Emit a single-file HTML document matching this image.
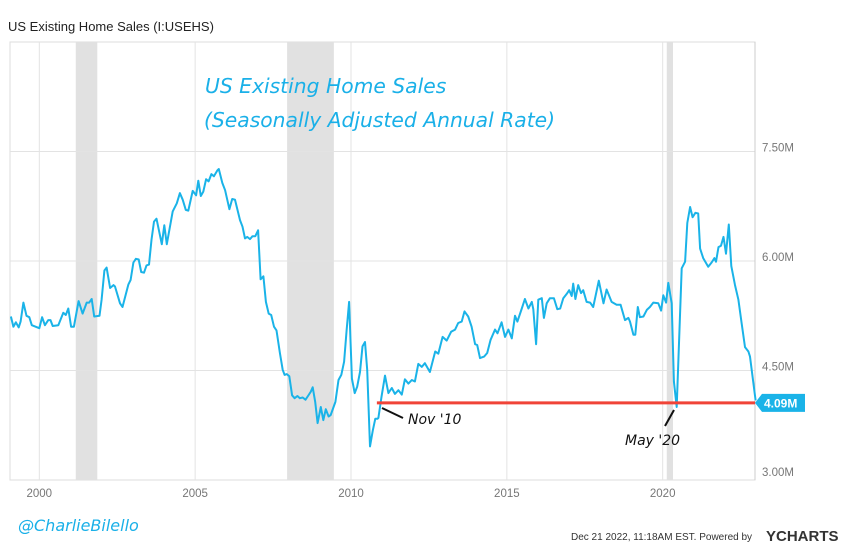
<!DOCTYPE html>
<html><head><meta charset="utf-8"><style>
body{margin:0;background:#fff;font-family:"Liberation Sans",sans-serif}
#wrap{position:relative;width:850px;height:546px;overflow:hidden}
</style></head><body>
<div id="wrap">
<svg id="chart" width="850" height="546"></svg>
</div>
<script>
const dates=[1999.09,1999.17,1999.25,1999.34,1999.40,1999.49,1999.59,1999.68,1999.76,2000.00,2000.09,2000.18,2000.29,2000.36,2000.43,2000.61,2000.77,2000.85,2000.93,2001.02,2001.11,2001.26,2001.39,2001.52,2001.60,2001.68,2001.76,2001.93,2002.00,2002.09,2002.16,2002.27,2002.38,2002.43,2002.59,2002.67,2002.86,2002.93,2003.02,2003.10,2003.19,2003.27,2003.36,2003.44,2003.52,2003.60,2003.68,2003.76,2003.93,2004.01,2004.09,2004.28,2004.41,2004.51,2004.60,2004.70,2004.78,2004.92,2005.03,2005.10,2005.18,2005.26,2005.35,2005.43,2005.52,2005.60,2005.71,2005.76,2005.87,2005.96,2006.10,2006.19,2006.28,2006.44,2006.52,2006.60,2006.67,2006.76,2006.84,2006.93,2007.02,2007.10,2007.19,2007.27,2007.36,2007.44,2007.53,2007.61,2007.72,2007.81,2007.87,2007.94,2008.02,2008.11,2008.19,2008.28,2008.36,2008.45,2008.54,2008.62,2008.71,2008.77,2008.85,2008.93,2009.03,2009.11,2009.19,2009.28,2009.35,2009.50,2009.60,2009.69,2009.78,2009.86,2009.94,2010.03,2010.12,2010.20,2010.29,2010.37,2010.45,2010.52,2010.61,2010.70,2010.78,2010.85,2010.88,2010.98,2011.09,2011.20,2011.31,2011.41,2011.52,2011.63,2011.73,2011.84,2011.95,2012.05,2012.16,2012.27,2012.37,2012.53,2012.70,2012.80,2012.94,2013.07,2013.21,2013.34,2013.44,2013.55,2013.64,2013.76,2013.87,2013.98,2014.05,2014.14,2014.27,2014.37,2014.48,2014.62,2014.70,2014.83,2014.94,2015.05,2015.16,2015.26,2015.34,2015.48,2015.58,2015.69,2015.80,2015.85,2015.94,2016.01,2016.12,2016.19,2016.28,2016.38,2016.51,2016.62,2016.71,2016.81,2016.92,2017.00,2017.08,2017.13,2017.20,2017.29,2017.38,2017.45,2017.56,2017.67,2017.77,2017.95,2018.10,2018.20,2018.36,2018.52,2018.65,2018.79,2018.90,2018.95,2019.06,2019.12,2019.20,2019.27,2019.38,2019.49,2019.59,2019.70,2019.86,2019.95,2020.02,2020.11,2020.18,2020.29,2020.36,2020.45,2020.61,2020.72,2020.79,2020.88,2020.96,2021.05,2021.14,2021.20,2021.30,2021.46,2021.57,2021.66,2021.71,2021.79,2021.87,2021.95,2022.03,2022.12,2022.20,2022.32,2022.43,2022.53,2022.64,2022.75,2022.80,2022.98];
const sales=[5.24,5.10,5.16,5.09,5.17,5.43,5.25,5.23,5.12,5.08,5.23,5.12,5.19,5.19,5.11,5.12,5.29,5.26,5.35,5.10,5.10,5.45,5.28,5.43,5.43,5.48,5.24,5.25,5.47,5.87,5.91,5.63,5.67,5.65,5.42,5.37,5.68,5.74,5.98,6.03,6.02,5.85,5.84,5.94,5.95,6.29,6.54,6.58,6.23,6.49,6.23,6.68,6.79,6.93,6.84,6.70,6.69,6.96,6.90,7.10,6.89,6.95,7.12,7.09,7.19,7.16,7.24,7.26,7.07,6.97,6.71,6.85,6.84,6.56,6.47,6.31,6.33,6.30,6.34,6.34,6.42,5.75,5.79,5.44,5.28,5.26,5.10,5.05,4.74,4.51,4.44,4.45,4.42,4.16,4.12,4.15,4.12,4.13,4.10,4.15,4.21,4.27,4.07,3.78,4.00,3.82,3.97,3.87,3.89,4.07,4.37,4.44,4.62,5.05,5.44,4.39,4.19,4.28,4.48,4.83,4.89,4.51,3.46,3.68,3.84,3.84,3.85,4.14,4.43,4.19,4.26,4.18,4.23,4.17,4.38,4.32,4.37,4.35,4.59,4.55,4.60,4.48,4.76,4.73,4.96,4.91,5.03,5.06,5.15,5.17,5.31,5.24,5.10,4.86,4.85,4.67,4.69,4.74,4.92,5.06,5.01,5.16,4.96,5.06,4.94,5.25,5.17,5.35,5.48,5.35,5.44,5.34,4.86,5.47,5.49,5.22,5.42,5.49,5.49,5.34,5.35,5.49,5.55,5.60,5.52,5.69,5.48,5.67,5.56,5.60,5.44,5.43,5.37,5.73,5.42,5.61,5.44,5.40,5.40,5.19,5.22,5.17,4.99,4.99,5.37,5.23,5.24,5.33,5.37,5.43,5.42,5.32,5.53,5.43,5.70,5.42,4.35,4.00,5.90,5.99,6.52,6.74,6.60,6.66,6.65,6.17,6.04,5.92,5.98,6.04,5.99,6.19,6.21,6.33,6.10,6.50,5.93,5.67,5.47,5.15,4.82,4.76,4.69,4.09];
const yTicks=[3.0,4.5,6.0,7.5];
const yTickLabels=["3.00M","4.50M","6.00M","7.50M"];
const xTicks=[2000,2005,2010,2015,2020];
const recessions=[[2001.17,2001.86],[2007.95,2009.45],[2020.13,2020.33]];
const lastValue=4.09;
const lastLabel="4.09M";

const NS="http://www.w3.org/2000/svg";
const svg=document.getElementById('chart');
const L=10,R=755,T=42,B=480;
const X=t=>39.3+(t-2000)*31.17;
const Y=v=>480-(v-3.0)/1.5*109.5;
function mk(tag,attrs,parent){const e=document.createElementNS(NS,tag);for(const k in attrs)e.setAttribute(k,attrs[k]);(parent||svg).appendChild(e);return e;}

const hdr=mk('text',{x:8,y:31,'font-size':13,fill:'#222'});hdr.textContent="US Existing Home Sales (I:USEHS)";


const frame=mk('rect',{x:L,y:T,width:R-L,height:B-T,fill:'none',stroke:'#ddd'});



recessions.forEach(r=>{const e=mk('rect',{x:X(r[0]),y:T,width:X(r[1])-X(r[0]),height:B-T,fill:'#e1e1e1'});

});

yTicks.forEach((v,i)=>{
 if(v>3.0){const g=mk('line',{x1:L,x2:R,y1:Y(v),y2:Y(v),stroke:'#e3e3e3'});
 
 }
 const t=mk('text',{x:762,y:Y(v)+(v===3.0?-4:0),'font-size':11.5,fill:'#777'});t.textContent=yTickLabels[i];
 
 
});
xTicks.forEach(v=>{
 const g=mk('line',{x1:X(v),x2:X(v),y1:T,y2:B,stroke:'#e3e3e3'});
 
 
 const t=mk('text',{x:X(v),y:497,'font-size':11.5,fill:'#777','text-anchor':'middle'});t.textContent=v;
 
 
});
mk('line',{x1:R,x2:R,y1:T,y2:B,stroke:'#ccc'});

const title=mk('text',{x:205,y:93,'font-size':20.3,fill:'#1ab0e8','font-family':'"DejaVu Sans",sans-serif','font-style':'italic'});
title.textContent="US Existing Home Sales";


const sub=mk('text',{x:204,y:127,'font-size':20.3,fill:'#1ab0e8','font-family':'"DejaVu Sans",sans-serif','font-style':'italic'});
sub.textContent="(Seasonally Adjusted Annual Rate)";



const d=dates.map((t,i)=>(i?'L':'M')+X(t).toFixed(1)+','+Y(sales[i]).toFixed(1)).join('');
const line=mk('path',{d:d,fill:'none',stroke:'#1ab3e8','stroke-width':2,'stroke-linejoin':'round'});



const ly=Y(lastValue)+2.5;
const ref=mk('line',{x1:X(2010.83),x2:R,y1:ly,y2:ly,stroke:'#f04438','stroke-width':3});



mk('line',{x1:382,y1:408,x2:403,y2:418,stroke:'#111','stroke-width':2});
const n1=mk('text',{x:408,y:424,'font-size':14,fill:'#111','font-family':'"DejaVu Sans",sans-serif','font-style':'italic'});n1.textContent="Nov '10";


mk('line',{x1:665,y1:426,x2:674,y2:410,stroke:'#111','stroke-width':2});
const n2=mk('text',{x:625,y:445,'font-size':14,fill:'#111','font-family':'"DejaVu Sans",sans-serif','font-style':'italic'});n2.textContent="May '20";



const badge=mk('path',{d:`M${R},${ly} L${R+7},${ly-9} H805 V${ly+9} H${R+7} Z`,fill:'#1ab3e8'});


const bt=mk('text',{x:764,y:ly+4.5,'font-size':12,'font-weight':'bold',fill:'#fff'});bt.textContent=lastLabel;



const h=mk('text',{x:18,y:531,'font-size':16,fill:'#1ab0e8','font-family':'"DejaVu Sans",sans-serif','font-style':'italic'});h.textContent="@CharlieBilello";


const f=mk('text',{x:571,y:540,'font-size':10,fill:'#333'});f.textContent="Dec 21 2022, 11:18AM EST.  Powered by";


const yc=mk('text',{x:766,y:541,'font-size':15,'font-weight':'bold',fill:'#333'});yc.textContent="YCHARTS";


</script>
</body></html>
